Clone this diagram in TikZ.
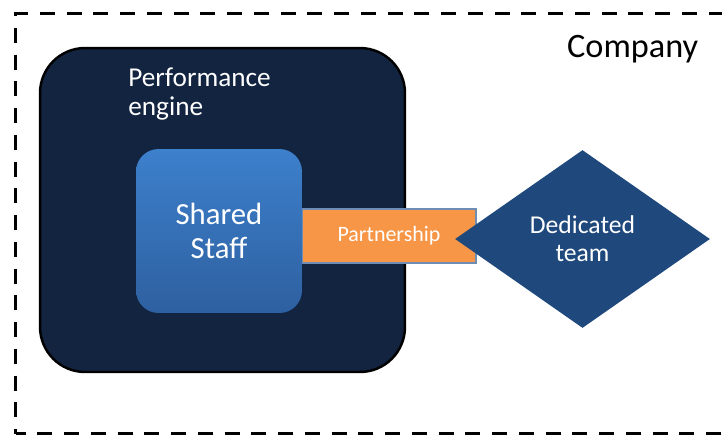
\documentclass[tikz,border=0pt]{standalone}
\usepackage{fontspec}
\setmainfont{Carlito}
\usetikzlibrary{shapes.geometric}
\definecolor{engineNavy}{RGB}{19,36,64}
\definecolor{staffTop}{RGB}{61,128,204}
\definecolor{staffBottom}{RGB}{46,96,160}
\definecolor{partnerOrange}{RGB}{247,150,70}
\definecolor{partnerEdge}{RGB}{110,140,180}
\definecolor{teamBlue}{RGB}{31,73,125}

\begin{document}
\begin{tikzpicture}[x=0.02cm,y=-0.02cm,
  whitetext/.style={text=white,align=center,inner sep=0pt}]
\useasboundingbox (0,0) rectangle (722,434);
% Company boundary, runs off the right edge
\node[draw,line width=1.9pt,dash pattern=on 0.3cm off 0.235cm,dash phase=0.1cm,
  minimum width=14.6cm,minimum height=8.4cm,anchor=north west,inner sep=0pt] (company) at (14,12) {};
\node[anchor=base west,font=\fontsize{19.5}{21}\selectfont] (companyLabel) at (561,57) {Company};
% Performance engine
\node[draw=black,line width=1.4pt,fill=engineNavy,rounded corners=0.9cm,
  minimum width=7.3cm,minimum height=6.48cm] (engine) at (222.5,210) {};
\node[anchor=west,align=left,text=white,inner sep=0pt,
  font=\fontsize{15.5}{16.5}\selectfont] (engineLabel) at (128,94) {Performance\\engine};
% Partnership link
\node[draw=partnerEdge,line width=0.6pt,fill=partnerOrange,minimum width=3.48cm,minimum height=1.08cm,
  whitetext,font=\fontsize{12.5}{14}\selectfont] (partner) at (389,236) {Partnership};
% Shared staff
\node[top color=staffTop,bottom color=staffBottom,rounded corners=0.45cm,
  minimum width=3.32cm,minimum height=3.28cm,
  whitetext,font=\fontsize{17.5}{19}\selectfont] (staff) at (219,231) {Shared\\Staff};
% Dedicated team
\node[diamond,fill=teamBlue,minimum width=5.1cm,minimum height=3.56cm,
  whitetext,font=\fontsize{14.6}{16}\selectfont] (team) at (582.5,239) {Dedicated\\team};
\end{tikzpicture}
\end{document}
